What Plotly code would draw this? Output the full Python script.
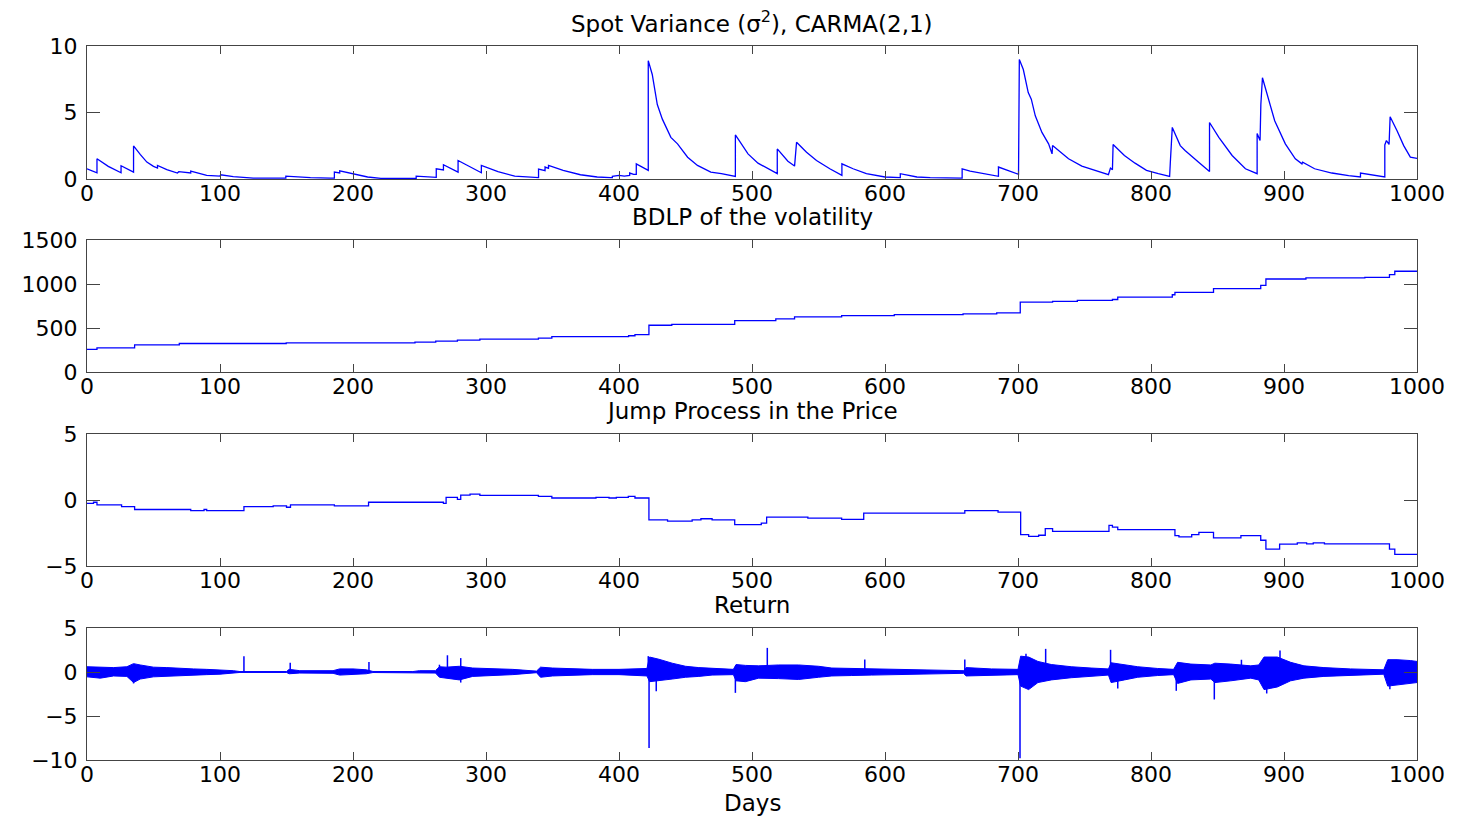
import plotly.graph_objects as go
from plotly.subplots import make_subplots

# ---------------- data ----------------
# Spot variance: (day, value) pairs; repeated days mark jumps
var_days = [0, 7.5, 7.5, 16, 25.6, 25.6, 35, 35, 40, 45, 50, 53, 53, 60, 68, 69, 78, 78, 90, 100,
            100.5, 110, 125, 149.5, 149.5, 168, 183, 186, 186, 190, 190, 201, 211, 221, 247.5, 247.5,
            262.6, 262.6, 266, 268, 268, 279, 279, 288, 296.5, 296.5, 309, 321.6, 333, 339.5, 339.5,
            344.4, 344.4, 347, 347, 358, 371, 383.6, 393.7, 395, 395, 400, 404, 408, 408, 411, 413, 413,
            422, 422, 425, 428.8, 432.6, 439, 444, 451.6, 459, 469, 477, 487.5, 487.5, 497, 504.5, 509.5,
            519, 519, 527, 532, 533.5, 541, 548.5, 558.5, 567.6, 567.6, 576, 586, 600, 611.5, 611.5, 624,
            634, 658, 658, 664, 674, 685.3, 685.3, 700.4, 701, 704, 707.7, 710, 713, 718, 723, 725.6, 726,
            730.5, 738, 748, 758, 768, 769.5, 771, 771.5, 780, 788, 796.6, 805.5, 814, 814.5, 816, 822,
            825.6, 835.6, 844, 844, 851, 861, 871, 879.8, 879.8, 882, 882.6, 883.8, 888, 893, 901, 908.5,
            913.5, 914, 923, 936, 948.6, 957.5, 957.5, 975.8, 975.8, 977, 979, 979.8, 985, 990, 995, 1000]
var_values = [0.77, 0.47, 1.52, 0.95, 0.47, 1.0, 0.52, 2.49, 1.85, 1.27, 0.95, 0.82, 1.02, 0.7, 0.45, 0.55,
              0.45, 0.6, 0.27, 0.22, 0.32, 0.18, 0.07, 0.07, 0.22, 0.1, 0.07, 0.07, 0.52, 0.45, 0.62, 0.35,
              0.15, 0.05, 0.05, 0.22, 0.12, 0.77, 0.68, 0.68, 1.07, 0.52, 1.39, 0.9, 0.47, 1.02, 0.55, 0.22,
              0.12, 0.1, 0.75, 0.62, 0.9, 0.8, 1.02, 0.65, 0.32, 0.15, 0.1, 0.1, 0.2, 0.27, 0.22, 0.27, 0.45,
              0.35, 0.35, 1.14, 0.65, 8.9, 7.86, 5.6, 4.5, 3.13, 2.64, 1.64, 1.02, 0.52, 0.4, 0.2, 3.31,
              1.89, 1.19, 0.9, 0.4, 2.26, 1.34, 0.97, 2.76, 2.01, 1.39, 0.77, 0.27, 1.14, 0.77, 0.4, 0.15,
              0.1, 0.4, 0.15, 0.1, 0.07, 0.77, 0.6, 0.4, 0.2, 0.9, 0.35, 8.98, 8.23, 6.5, 6.0, 4.75, 3.5,
              2.64, 1.89, 2.51, 2.14, 1.52, 0.97, 0.65, 0.32, 0.82, 0.7, 2.59, 1.77, 1.19, 0.65, 0.4, 0.2,
              1.19, 3.88, 2.51, 2.14, 1.27, 0.57, 4.25, 3.13, 1.77, 0.77, 0.4, 3.43, 2.89, 5.62, 7.61, 6.12,
              4.38, 2.64, 1.52, 1.14, 1.27, 0.77, 0.45, 0.25, 0.15, 0.45, 0.15, 2.56, 2.89, 2.6, 4.68, 3.63,
              2.51, 1.64, 1.55]

# BDLP of the volatility: step start days and levels
bdlp_days = [0, 7.5, 35.8, 69.4, 149.8, 246.6, 262.2, 278.5, 295.4, 339.4, 349.5, 407.2, 412, 422.5,
             439.7, 487, 517.9, 532, 567.4, 607, 658.7, 684, 701.7, 726, 744.6, 771, 775, 816, 818, 847,
             882.5, 886.4, 916.5, 960.8, 979.3, 983.3, 1000]
bdlp_values = [256, 275, 309, 324, 332, 340, 351, 363, 374, 385, 401, 412, 424, 531, 542, 584, 603, 626,
               641, 653, 660, 672, 794, 802, 813, 824, 851, 878, 905, 947, 985, 1057, 1069, 1076, 1107,
               1145, 1145]

# Jump process in the price: step start days and levels
jump_days = [0, 4.9, 7.5, 26, 35.8, 78, 88, 90, 118, 140, 150, 153, 186, 211.7, 268, 270, 278.5, 281,
             288, 295.4, 339.4, 349.5, 382.7, 392.5, 398, 407, 412, 422.5, 436.5, 455, 461.6, 470, 487,
             507, 511, 542, 567.4, 584, 660, 685, 702, 708, 715.5, 720.5, 726, 768.4, 771, 775, 818, 821,
             830.6, 836, 847, 867.6, 882.5, 886.4, 896.7, 910, 917, 922, 930.4, 979.3, 983.3, 1000]
jump_values = [-0.25, -0.17, -0.37, -0.5, -0.72, -0.8, -0.72, -0.8, -0.5, -0.45, -0.55, -0.37, -0.45,
               -0.17, -0.25, 0.2, 0.05, 0.37, 0.45, 0.35, 0.27, 0.15, 0.2, 0.15, 0.2, 0.27, 0.15, -1.5,
               -1.6, -1.5, -1.42, -1.5, -1.87, -1.75, -1.3, -1.37, -1.47, -1.0, -0.8, -0.92, -2.62, -2.75,
               -2.67, -2.17, -2.37, -1.92, -2.05, -2.25, -2.7, -2.8, -2.62, -2.45, -2.87, -2.7, -3.05,
               -3.72, -3.35, -3.25, -3.32, -3.25, -3.32, -3.72, -4.12, -4.12]

# Return: noise envelope (upper / lower) and isolated spikes
ret_days = [0, 10, 20, 30, 35, 40, 50, 60, 70, 80, 90, 100, 110, 115, 150, 152, 160, 185, 190, 200, 210,
            215, 245, 250, 262, 265, 270, 280, 290, 300, 320, 338, 341, 350, 365, 380, 400, 410, 421, 423,
            430, 440, 450, 460, 470, 486, 488, 495, 505, 520, 535, 550, 560, 575, 590, 605, 630, 659, 661,
            680, 700, 702, 708, 715, 725, 740, 755, 768, 770, 780, 790, 805, 817, 820, 830, 845, 848, 860,
            875, 881, 885, 895, 905, 915, 930, 950, 975, 978, 985, 995, 1000]
ret_upper = [0.6, 0.55, 0.5, 0.6, 0.95, 0.8, 0.55, 0.5, 0.4, 0.35, 0.3, 0.25, 0.15, 0.05, 0.05, 0.3, 0.15,
             0.15, 0.35, 0.35, 0.25, 0.06, 0.05, 0.15, 0.15, 0.6, 0.55, 0.65, 0.45, 0.4, 0.3, 0.1, 0.55,
             0.45, 0.35, 0.3, 0.3, 0.35, 0.4, 1.7, 1.45, 1.0, 0.65, 0.5, 0.4, 0.3, 0.85, 0.75, 0.7, 0.8,
             0.8, 0.65, 0.45, 0.4, 0.35, 0.25, 0.2, 0.15, 0.5, 0.35, 0.3, 1.8, 1.7, 1.2, 0.85, 0.6, 0.45,
             0.35, 1.05, 0.8, 0.6, 0.4, 0.3, 1.1, 0.9, 0.8, 1.0, 0.9, 0.7, 0.8, 1.7, 1.7, 1.1, 0.7, 0.5,
             0.35, 0.25, 1.4, 1.4, 1.3, 1.2]
ret_lower = [-0.55, -0.7, -0.45, -0.5, -1.2, -0.8, -0.55, -0.45, -0.4, -0.35, -0.3, -0.25, -0.12, -0.05,
             -0.05, -0.2, -0.12, -0.15, -0.35, -0.3, -0.2, -0.06, -0.05, -0.12, -0.12, -0.6, -0.65, -0.9,
             -0.5, -0.4, -0.3, -0.08, -0.6, -0.45, -0.4, -0.3, -0.3, -0.35, -0.45, -1.1, -1.0, -0.8, -0.6,
             -0.5, -0.35, -0.3, -1.0, -1.1, -0.7, -0.75, -0.85, -0.6, -0.45, -0.4, -0.35, -0.25, -0.2,
             -0.15, -0.45, -0.35, -0.3, -1.6, -2.0, -1.2, -0.9, -0.65, -0.45, -0.35, -1.2, -0.9, -0.6,
             -0.4, -0.3, -1.3, -0.9, -0.8, -1.2, -1.0, -0.7, -0.9, -2.0, -1.7, -1.0, -0.7, -0.5, -0.35,
             -0.25, -1.6, -1.5, -1.3, -1.2]
spike_days = [35, 118, 152.8, 212, 265, 271, 281, 281, 422, 422.6, 428, 487.5, 511.5, 584.8, 660, 701.5,
              706, 720.8, 769.6, 775, 819, 847.6, 868, 887, 897, 979.6]
spike_values = [-1.3, 1.8, 1.05, 1.13, 0.83, 1.9, 1.58, -1.2, 1.8, -8.65, -2.2, -2.37, 2.74, 1.43, 1.43,
                -9.8, 2.07, 2.63, 2.52, -1.88, -2.14, -3.12, 1.39, -2.44, 2.44, -1.95]

x_ticks = [0, 100, 200, 300, 400, 500, 600, 700, 800, 900, 1000]
panel_titles = ["Spot Variance (σ<sup>2</sup>), CARMA(2,1)", "BDLP of the volatility",
                "Jump Process in the Price", "Return"]
x_label = "Days"

# ---------------- layout geometry ----------------
W, H = 1458, 819
panel_px = [(46, 179), (240, 372), (434, 566), (628, 760)]   # top/bottom pixel rows of the panels
title_px = [22, 217, 411, 605]
BLUE = "rgb(0,0,255)"
FONT = "DejaVu Sans"
FS = 23
TICK_FS = 22

fig = make_subplots(rows=4, cols=1, shared_xaxes=False)

fig.add_trace(go.Scatter(x=var_days, y=var_values, mode="lines",
                         line=dict(color=BLUE, width=1.3)), row=1, col=1)
fig.add_trace(go.Scatter(x=bdlp_days, y=bdlp_values, mode="lines", line_shape="hv",
                         line=dict(color=BLUE, width=1.3)), row=2, col=1)
fig.add_trace(go.Scatter(x=jump_days, y=jump_values, mode="lines", line_shape="hv",
                         line=dict(color=BLUE, width=1.3)), row=3, col=1)

band_x = ret_days + ret_days[::-1]
band_y = ret_upper + ret_lower[::-1]
fig.add_trace(go.Scatter(x=band_x, y=band_y, mode="lines", fill="toself", fillcolor=BLUE,
                         line=dict(color=BLUE, width=1)), row=4, col=1)
sx, sy = [], []
for d, v in zip(spike_days, spike_values):
    sx += [d, d, None]
    sy += [0, v, None]
fig.add_trace(go.Scatter(x=sx, y=sy, mode="lines", line=dict(color=BLUE, width=1.5)), row=4, col=1)

y_ranges = [[0, 10], [0, 1500], [-5, 5], [-10, 5]]
y_ticks = [[0, 5, 10], [0, 500, 1000, 1500], [-5, 0, 5], [-10, -5, 0, 5]]

axis_common = dict(showline=True, linecolor="#444", linewidth=1, mirror="ticks", ticks="inside",
                   tickcolor="#444", showgrid=False, zeroline=False, automargin=False,
                   tickfont=dict(family=FONT, size=TICK_FS, color="black"))
for i in range(4):
    top, bot = panel_px[i]
    fig.update_xaxes(range=[0, 1000], tickvals=x_ticks, ticklen=8, ticklabelstandoff=-5,
                     **axis_common, row=i + 1, col=1)
    fig.update_yaxes(range=y_ranges[i], tickvals=y_ticks[i], domain=[1 - bot / H, 1 - top / H],
                     ticklen=13, ticklabelstandoff=4, **axis_common, row=i + 1, col=1)

annotations = []
for t, ypx in zip(panel_titles, title_px):
    annotations.append(dict(text=t, x=0.5, y=1 - ypx / H, xref="paper", yref="paper",
                            xanchor="center", yanchor="middle", showarrow=False,
                            font=dict(family=FONT, size=FS, color="black")))
annotations.append(dict(text=x_label, x=0.5, y=1 - 803 / H, xref="paper", yref="paper",
                        xanchor="center", yanchor="middle", showarrow=False,
                        font=dict(family=FONT, size=FS, color="black")))

fig.update_layout(width=W, height=H, margin=dict(l=87, r=41, t=0, b=0),
                  paper_bgcolor="white", plot_bgcolor="white", showlegend=False,
                  annotations=annotations)

fig.write_html("out.html")
